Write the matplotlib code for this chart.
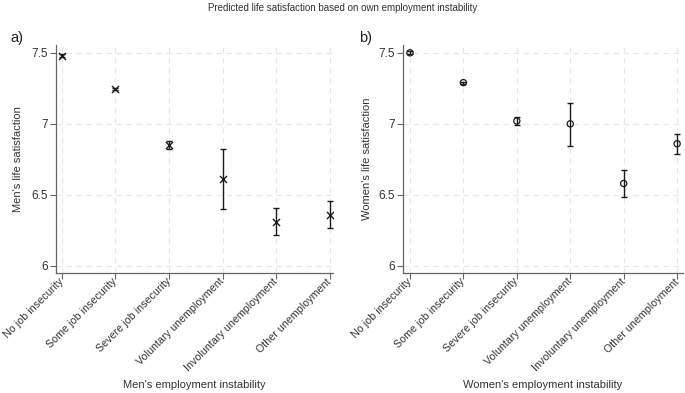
import matplotlib
matplotlib.use("Agg")
import matplotlib.pyplot as plt
import numpy as np

plt.rcParams['font.family'] = ['Liberation Sans', 'DejaVu Sans']

categories = ["No job insecurity", "Some job insecurity", "Severe job insecurity",
              "Voluntary unemployment", "Involuntary unemployment", "Other unemployment"]
men_est = [7.48, 7.245, 6.85, 6.61, 6.31, 6.36]
men_lo = [7.47, 7.235, 6.82, 6.40, 6.215, 6.265]
men_hi = [7.495, 7.255, 6.88, 6.825, 6.405, 6.455]
women_est = [7.50, 7.29, 7.02, 7.00, 6.58, 6.86]
women_lo = [7.49, 7.283, 6.99, 6.845, 6.485, 6.79]
women_hi = [7.51, 7.297, 7.05, 7.15, 6.675, 6.93]
yticks = [6, 6.5, 7, 7.5]
ytick_labels = ["6", "6.5", "7", "7.5"]

fig = plt.figure(figsize=(6.85, 3.93), dpi=100)
fig.patch.set_facecolor('white')

ax1 = fig.add_axes([56/685, 1-273/393, (333-56)/685, (273-45)/393])
ax2 = fig.add_axes([403/685, 1-273/393, (683-403)/685, (273-45)/393])

def draw(ax, est, lo, hi, marker, ylabel, xlabel, xlim, ylx):
    x = np.arange(1, len(categories)+1)
    est = np.array(est); lo = np.array(lo); hi = np.array(hi)
    ax.errorbar(x, est, yerr=[est-lo, hi-est], fmt='none', ecolor='#1a1a1a',
                elinewidth=1.0, capsize=2.5, capthick=1.0, zorder=3)
    if marker == 'x':
        ax.scatter(x, est, marker='x', s=26, color='#1a1a1a', linewidths=1.0, zorder=4)
    else:
        ax.scatter(x, est, marker='o', s=20, facecolors='none', edgecolors='#1a1a1a',
                   linewidths=0.9, zorder=4)
    ax.set_xlim(*xlim)
    ax.set_ylim(5.95, 7.555)
    ax.set_yticks(yticks)
    ax.set_yticklabels(ytick_labels, fontsize=8.5, color='#333333')
    ax.set_xticks(x)
    ax.set_xticklabels(categories, rotation=45, ha='right', va='center',
                       rotation_mode='anchor', fontsize=7.7, color='#333333')
    ax.grid(True, color='#e6e6e6', linestyle=(0, (5, 4)), linewidth=0.8, zorder=0)
    ax.set_axisbelow(True)
    for s in ['top', 'right']:
        ax.spines[s].set_visible(False)
    for s in ['left', 'bottom']:
        ax.spines[s].set_color('#666666')
        ax.spines[s].set_linewidth(0.9)
    ax.tick_params(axis='both', direction='out', length=4, width=0.8, color='#666666', pad=2)
    ax.tick_params(axis='x', pad=1)
    ax.set_ylabel(ylabel, fontsize=8, color='#333333', va='center')
    ax.yaxis.set_label_coords(ylx, 0.5)
    ax.set_xlabel(xlabel, fontsize=8, color='#333333', va='center')
    ax.xaxis.set_label_coords(0.5, -0.491)

draw(ax1, men_est, men_lo, men_hi, 'x', "Men's life satisfaction",
     "Men's employment instability", (0.89, 6.06), -0.137)
draw(ax2, women_est, women_lo, women_hi, 'o', "Women's life satisfaction",
     "Women's employment instability", (0.87, 6.11), -0.129)

fig.text(0.5, 1-8/393, "Predicted life satisfaction based on own employment instability",
         ha='center', va='center', fontsize=7, color='#333333')
fig.text(10/685, 1-38/393, "a)", ha='left', va='center', fontsize=10.5, color='#222222')
fig.text(359/685, 1-38/393, "b)", ha='left', va='center', fontsize=10.5, color='#222222')

fig.savefig("out.png", dpi=100, facecolor='white')
